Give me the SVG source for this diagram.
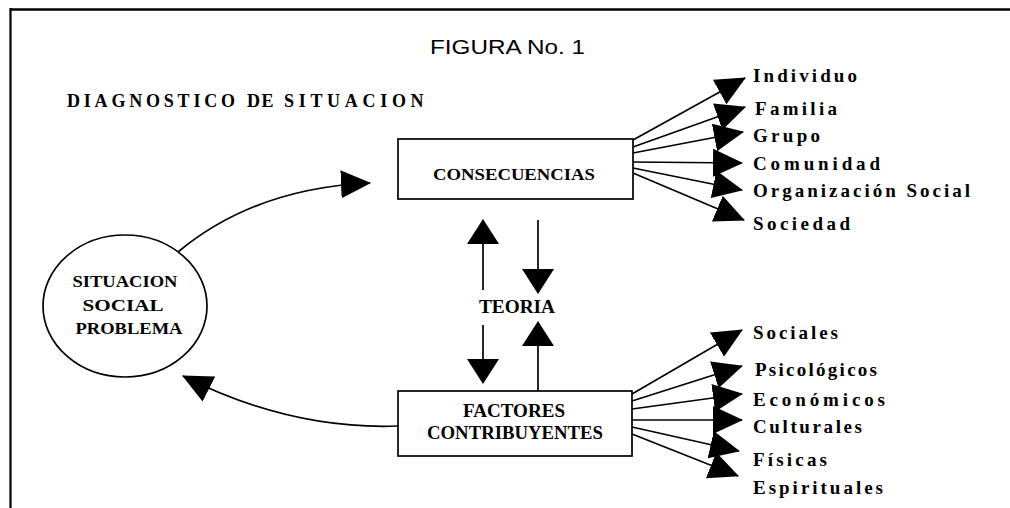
<svg xmlns="http://www.w3.org/2000/svg" width="1010" height="508" viewBox="0 0 1010 508">
<defs>
<style>
.t{font-family:"Liberation Serif","Times New Roman",serif;font-weight:bold;fill:#000}
.lbl{font-family:"Liberation Serif","Times New Roman",serif;font-weight:bold;font-size:19px;fill:#000}
.ln{stroke:#000;stroke-width:1.7;fill:none}
.box{fill:#fff;stroke:#000;stroke-width:1.7}
</style>
<marker id="ah" viewBox="0 0 30 28" refX="29" refY="14" markerWidth="30" markerHeight="28" markerUnits="userSpaceOnUse" orient="auto">
<path d="M0,0 L30,14 L0,28 z" fill="#000"/>
</marker>
<marker id="av" viewBox="0 0 25 32" refX="24" refY="16" markerWidth="25" markerHeight="32" markerUnits="userSpaceOnUse" orient="auto">
<path d="M0,0 L25,16 L0,32 z" fill="#000"/>
</marker>
</defs>
<rect width="1010" height="508" fill="#fff"/>
<g id="frame">
<line x1="10" y1="9.5" x2="1010" y2="9.5" stroke="#000" stroke-width="2.5"/>
<line x1="10.5" y1="8" x2="10.5" y2="508" stroke="#000" stroke-width="2.2"/>
</g>
<g id="titles">
<text x="430" y="54" font-family="'Liberation Sans',Arial,sans-serif" font-size="21" textLength="155" lengthAdjust="spacingAndGlyphs">FIGURA No. 1</text>
<text class="t" font-size="18" y="107"><tspan x="67" letter-spacing="3.8">DIAGNOSTICO</tspan> <tspan x="247" letter-spacing="1.5">DE</tspan> <tspan x="284" letter-spacing="4.7">SITUACION</tspan></text>
</g>
<g id="connectors">
<path class="ln" d="M178,252 Q255,188 370,183" marker-end="url(#ah)"/>
<path class="ln" d="M398,426 Q290,430 183,376" marker-end="url(#ah)"/>
<line class="ln" x1="483" y1="290" x2="483" y2="220" marker-end="url(#av)"/>
<line class="ln" x1="538" y1="220" x2="538" y2="293" marker-end="url(#av)"/>
<line class="ln" x1="483" y1="325" x2="483" y2="383" marker-end="url(#av)"/>
<line class="ln" x1="538" y1="391" x2="538" y2="322" marker-end="url(#av)"/>
<line class="ln" x1="633" y1="140" x2="745" y2="78" marker-end="url(#ah)"/>
<line class="ln" x1="633" y1="147" x2="745" y2="107" marker-end="url(#ah)"/>
<line class="ln" x1="633" y1="153" x2="743" y2="132" marker-end="url(#ah)"/>
<line class="ln" x1="633" y1="162" x2="742" y2="163" marker-end="url(#ah)"/>
<line class="ln" x1="633" y1="168" x2="742" y2="190" marker-end="url(#ah)"/>
<line class="ln" x1="633" y1="173" x2="744" y2="220" marker-end="url(#ah)"/>
<line class="ln" x1="632" y1="394" x2="742" y2="330" marker-end="url(#ah)"/>
<line class="ln" x1="632" y1="401" x2="742" y2="366" marker-end="url(#ah)"/>
<line class="ln" x1="632" y1="409" x2="742" y2="394" marker-end="url(#ah)"/>
<line class="ln" x1="632" y1="420" x2="742" y2="420" marker-end="url(#ah)"/>
<line class="ln" x1="632" y1="427" x2="739" y2="451" marker-end="url(#ah)"/>
<line class="ln" x1="632" y1="434" x2="738" y2="476" marker-end="url(#ah)"/>
</g>
<g id="situacion">
<ellipse cx="125" cy="306" rx="82" ry="71" fill="#fff" stroke="#000" stroke-width="1.7"/>
<text class="t" x="125" y="287" font-size="17" text-anchor="middle" textLength="105" lengthAdjust="spacingAndGlyphs">SITUACION</text>
<text class="t" x="123" y="311" font-size="17" text-anchor="middle" textLength="81" lengthAdjust="spacingAndGlyphs">SOCIAL</text>
<text class="t" x="129" y="334" font-size="17" text-anchor="middle" textLength="107" lengthAdjust="spacingAndGlyphs">PROBLEMA</text>
</g>
<g id="consecuencias">
<rect class="box" x="398" y="139" width="235" height="60"/>
<text class="t" x="433" y="180" font-size="17" textLength="162" lengthAdjust="spacingAndGlyphs">CONSECUENCIAS</text>
</g>
<g id="factores">
<rect class="box" x="398" y="391" width="234" height="65"/>
<text class="t" x="463" y="417" font-size="18" textLength="102" lengthAdjust="spacingAndGlyphs">FACTORES</text>
<text class="t" x="427" y="439" font-size="18" textLength="176" lengthAdjust="spacingAndGlyphs">CONTRIBUYENTES</text>
</g>
<g id="teoria">
<text class="t" x="479" y="313" font-size="18" textLength="76" lengthAdjust="spacingAndGlyphs">TEORIA</text>
</g>
<g id="consecuencias-labels">
<text class="lbl" x="753" y="82" textLength="104" lengthAdjust="spacing">Individuo</text>
<text class="lbl" x="755" y="115" textLength="82" lengthAdjust="spacing">Familia</text>
<text class="lbl" x="753" y="142" textLength="67" lengthAdjust="spacing">Grupo</text>
<text class="lbl" x="753" y="170" textLength="127" lengthAdjust="spacing">Comunidad</text>
<text class="lbl" x="753" y="197" textLength="217" lengthAdjust="spacing">Organización Social</text>
<text class="lbl" x="753" y="230" textLength="97" lengthAdjust="spacing">Sociedad</text>
</g>
<g id="factores-labels">
<text class="lbl" x="753" y="339" textLength="85" lengthAdjust="spacing">Sociales</text>
<text class="lbl" x="755" y="376" textLength="122" lengthAdjust="spacing">Psicológicos</text>
<text class="lbl" x="753" y="406" textLength="132" lengthAdjust="spacing">Económicos</text>
<text class="lbl" x="753" y="433" textLength="109" lengthAdjust="spacing">Culturales</text>
<text class="lbl" x="753" y="466" textLength="74" lengthAdjust="spacing">Físicas</text>
<text class="lbl" x="753" y="494" textLength="130" lengthAdjust="spacing">Espirituales</text>
</g>
</svg>
